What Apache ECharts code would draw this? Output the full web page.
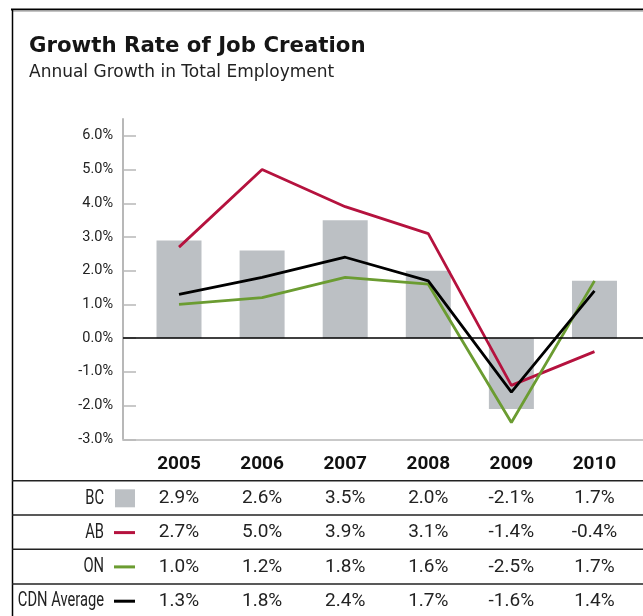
<!DOCTYPE html>
<html>
<head>
<meta charset="utf-8">
<script src="https://cdn.jsdelivr.net/npm/echarts@6/dist/echarts.min.js"></script>
<style>
  html, body { margin: 0; padding: 0; background: #fff; }
  #chart { width: 643px; height: 616px; }
</style>
</head>
<body>
<div id="chart"></div>
<script>
// Annual employment growth, percent
const years = ['2005', '2006', '2007', '2008', '2009', '2010'];
const bc  = [2.9, 2.6, 3.5, 2.0, -2.1, 1.7];
const ab  = [2.7, 5.0, 3.9, 3.1, -1.4, -0.4];
const on  = [1.0, 1.2, 1.8, 1.6, -2.5, 1.7];
const cdn = [1.3, 1.8, 2.4, 1.7, -1.6, 1.4];
const yTicks = [-3, -2, -1, 0, 1, 2, 3, 4, 5, 6];

const rowNames = ['BC', 'AB', 'ON', 'CDN Average'];
const rows = [bc, ab, on, cdn];

const narrow = 'Roboto, "Liberation Sans", sans-serif';
const headFont = '"DejaVu Sans", sans-serif';

const colors = { bc: '#bcc0c4', ab: '#b5123e', on: '#6b9c31', cdn: '#000000' };

const pct = v => v.toFixed(1) + '%';
const idx = years.map((_, i) => i);
const pairs = arr => arr.map((v, i) => [i, v]);

// plot geometry
const xMin = -0.674, xMax = 5.584;
const axisY = 439.3;
const rowCenters = [498.3, 532.6, 566.9, 601.2];
const ruleYs = [480.7, 515, 549.3, 584];

// bottom axis carries the year header; the stacked offset axes carry the table rows
const xAxes = [{
  type: 'value', min: xMin, max: xMax, position: 'bottom',
  axisLine: { show: true, onZero: false, lineStyle: { color: '#c9c9c9', width: 2 } },
  axisTick: { show: false },
  splitLine: { show: false },
  axisLabel: {
    customValues: idx, formatter: v => years[v],
    fontFamily: narrow, fontSize: 19, fontWeight: 'bold', color: '#111',
    verticalAlign: 'middle', margin: 24.7
  }
}];
rows.forEach((arr, r) => {
  xAxes.push({
    type: 'value', min: xMin, max: xMax, position: 'bottom',
    offset: rowCenters[r] - axisY,
    axisLine: { show: false }, axisTick: { show: false }, splitLine: { show: false },
    axisLabel: {
      customValues: idx, formatter: v => pct(arr[v]),
      fontFamily: narrow, fontSize: 19, color: '#222',
      verticalAlign: 'middle', margin: 0
    }
  });
});

// one legend key per table row, sitting just left of the first column
const legends = rowNames.map((name, r) => {
  const isBar = r === 0;
  const h = isBar ? 18 : 3;
  return {
    data: [{ name: name, icon: 'rect' }],
    orient: 'vertical', align: 'right', padding: 0,
    right: 508, top: rowCenters[r] - h / 2,
    itemWidth: isBar ? 20 : 21, itemHeight: h,
    formatter: () => '',
    selectedMode: false
  };
});

const frame = [
  { type: 'line', shape: { x1: 11, y1: 9.5, x2: 643, y2: 9.5 }, style: { stroke: '#000', lineWidth: 2 } },
  { type: 'line', shape: { x1: 13, y1: 11.3, x2: 643, y2: 11.3 }, style: { stroke: '#c4c4c4', lineWidth: 1.5 } },
  { type: 'line', shape: { x1: 12.5, y1: 9, x2: 12.5, y2: 616 }, style: { stroke: '#000', lineWidth: 1.5 } }
];
const rules = ruleYs.map(y => ({
  type: 'line', shape: { x1: 12, y1: y, x2: 643, y2: y }, style: { stroke: '#222', lineWidth: 1.5 }
}));
const rowLabels = rowNames.map((name, r) => ({
  type: 'text', x: 104, y: rowCenters[r], scaleX: 0.7,
  style: { text: name, fontFamily: narrow, fontSize: 21, fill: '#222', align: 'right', verticalAlign: 'middle' }
}));

const chart = echarts.init(document.getElementById('chart'), null, { renderer: 'canvas' });
chart.setOption({
  backgroundColor: '#fff',
  animation: false,
  title: {
    text: 'Growth Rate of Job Creation',
    subtext: 'Annual Growth in Total Employment',
    left: 29, top: 36, itemGap: 7, padding: 0,
    textStyle: { fontFamily: headFont, fontSize: 21.3, fontWeight: 'bold', color: '#151515' },
    subtextStyle: { fontFamily: headFont, fontSize: 17, color: '#222' }
  },
  legend: legends,
  grid: { left: 123, right: 0, top: 119, bottom: 616 - axisY, containLabel: false, outerBoundsMode: 'none' },
  xAxis: xAxes,
  yAxis: {
    type: 'value', min: -3, max: 6.5,
    axisLine: { show: true, onZero: false, lineStyle: { color: '#b8b8b8', width: 2 } },
    axisTick: { show: true, inside: true, length: 13, customValues: yTicks, lineStyle: { color: '#b8b8b8', width: 1.5 } },
    splitLine: { show: false },
    axisLabel: {
      customValues: yTicks, formatter: v => pct(v), margin: 10,
      fontFamily: narrow, fontSize: 14.5, color: '#222'
    }
  },
  graphic: frame.concat(rules, rowLabels),
  series: [
    {
      name: 'BC', type: 'bar', data: pairs(bc), barWidth: 45,
      itemStyle: { color: colors.bc },
      markLine: {
        silent: true, symbol: 'none', label: { show: false },
        lineStyle: { color: '#000', width: 1.5, type: 'solid' },
        data: [{ yAxis: 0 }]
      }
    },
    { name: 'AB', type: 'line', data: pairs(ab), symbol: 'none', lineStyle: { color: colors.ab, width: 2.8 }, itemStyle: { color: colors.ab } },
    { name: 'ON', type: 'line', data: pairs(on), symbol: 'none', lineStyle: { color: colors.on, width: 2.8 }, itemStyle: { color: colors.on } },
    { name: 'CDN Average', type: 'line', data: pairs(cdn), symbol: 'none', lineStyle: { color: colors.cdn, width: 2.8 }, itemStyle: { color: colors.cdn } }
  ]
});
</script>
</body>
</html>
